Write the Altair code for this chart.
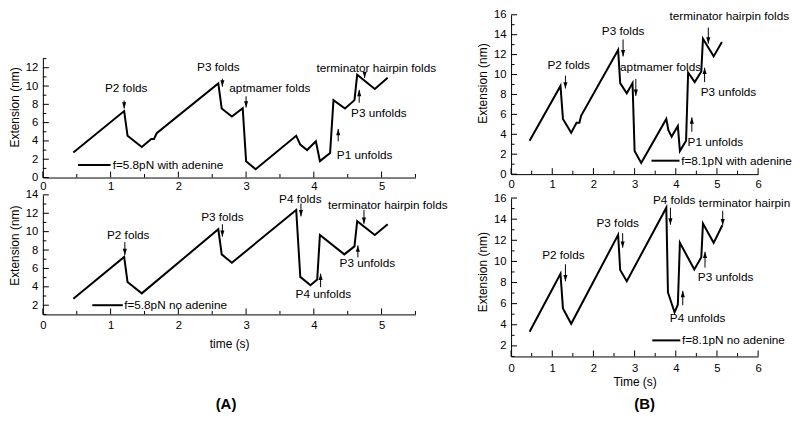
import altair as alt
import pandas as pd

FONT = "Liberation Sans"
FS = 11.8

# ---------------- Panel A (top): f=5.8pN with adenine ----------------
a1_t = [0.45, 1.20, 1.25, 1.46, 1.60, 1.64, 1.68, 2.59, 2.64, 2.79, 2.95, 3.00, 3.14,
        3.74, 3.80, 3.90, 4.03, 4.09, 4.24, 4.29, 4.46, 4.60, 4.64, 4.90, 5.09]
a1_e = [2.74, 7.26, 4.56, 3.33, 4.20, 4.20, 4.84, 10.28, 7.54, 6.67, 7.58, 1.79, 0.91,
        4.56, 3.60, 3.00, 3.96, 1.79, 2.67, 8.46, 7.54, 8.46, 11.23, 9.68, 10.91]
a1_lab = ["P2 folds", "P3 folds", "aptmamer folds", "P3 unfolds", "P1 unfolds"]
a1_lab_x = [1.23, 2.59, 3.35, 4.96, 4.75]
a1_lab_y = [9.75, 12.03, 9.80, 7.02, 2.49]
a1_left = ["terminator hairpin folds", "f=5.8pN with adenine"]
a1_left_x = [4.04, 1.03]
a1_left_y = [11.93, 1.37]
a1_arr_x = [1.20, 2.65, 3.00, 4.75, 4.67, 4.36]
a1_arr_tail = [8.42, 10.80, 8.88, 11.50, 8.18, 3.96]
a1_arr_tip = [7.54, 9.93, 7.65, 10.88, 9.58, 5.30]
a1_leg_x = [0.52, 1.00]
a1_leg_y = 1.37

# ---------------- Panel A (bottom): f=5.8pN no adenine ----------------
a2_t = [0.45, 1.20, 1.25, 1.46, 2.59, 2.64, 2.79, 3.74, 3.80, 3.95, 4.05, 4.09, 4.45,
        4.60, 4.64, 4.90, 5.09]
a2_e = [2.70, 7.25, 4.52, 3.29, 10.26, 7.53, 6.62, 12.36, 5.08, 4.17, 4.80, 9.63, 7.53,
        8.40, 11.13, 9.63, 10.80]
a2_lab = ["P2 folds", "P3 folds", "P4 folds", "P3 unfolds", "P4 unfolds"]
a2_lab_x = [1.26, 2.65, 3.80, 4.79, 4.14]
a2_lab_y = [9.63, 11.55, 13.58, 6.55, 3.26]
a2_left = ["terminator hairpin folds", "f=5.8pN no adenine"]
a2_left_x = [4.21, 1.20]
a2_left_y = [12.88, 2.00]
a2_arr_x = [1.21, 2.65, 3.81, 4.74, 4.65, 4.10]
a2_arr_tail = [8.86, 10.80, 13.06, 12.36, 7.20, 3.96]
a2_arr_tip = [7.46, 9.45, 11.66, 10.85, 8.50, 5.43]
a2_leg_x = [0.73, 1.18]
a2_leg_y = 2.00

# ---------------- Panel B (top): f=8.1pN with adenine ----------------
b1_t = [0.45, 1.20, 1.26, 1.46, 1.59, 1.66, 1.70, 2.60, 2.65, 2.81, 2.95, 3.00, 3.16,
        3.77, 3.82, 3.90, 4.05, 4.10, 4.25, 4.30, 4.46, 4.62, 4.66, 4.92, 5.12]
b1_e = [3.35, 8.85, 5.54, 4.15, 5.15, 5.15, 5.86, 12.46, 9.14, 8.11, 9.14, 2.32, 1.13,
        5.54, 4.41, 3.77, 4.83, 2.32, 3.35, 10.20, 9.24, 10.30, 13.59, 11.82, 13.26]
b1_lab = ["P2 folds", "P3 folds", "aptmamer folds", "terminator hairpin folds",
          "P3 unfolds", "P1 unfolds"]
b1_lab_x = [1.40, 2.72, 3.63, 5.30, 5.28, 4.96]
b1_lab_y = [11.00, 14.33, 10.75, 15.84, 8.27, 3.19]
b1_left = ["f=8.1pN with adenine"]
b1_left_x = [4.13]
b1_left_y = [1.35]
b1_arr_x = [1.32, 2.72, 3.03, 4.79, 4.70, 4.39]
b1_arr_tail = [9.88, 13.52, 9.56, 14.71, 9.24, 4.25]
b1_arr_tip = [8.60, 11.82, 7.86, 13.10, 10.69, 5.70]
b1_leg_x = [3.41, 4.09]
b1_leg_y = 1.35

# ---------------- Panel B (bottom): f=8.1pN no adenine ----------------
b2_t = [0.45, 1.20, 1.26, 1.46, 2.60, 2.65, 2.81, 3.77, 3.81, 3.97, 4.05, 4.10, 4.45,
        4.62, 4.66, 4.92, 5.13]
b2_e = [3.33, 8.82, 5.55, 4.09, 12.52, 9.18, 8.12, 15.09, 7.06, 5.18, 5.90, 11.76, 9.24,
        10.39, 13.58, 11.76, 13.42]
b2_lab = ["P2 folds", "P3 folds", "P4 folds", "P3 unfolds", "P4 unfolds"]
b2_lab_x = [1.27, 2.59, 3.96, 5.21, 4.53]
b2_lab_y = [10.64, 13.67, 15.85, 8.52, 4.64]
b2_left = ["terminator hairpin", "f=8.1pN no adenine"]
b2_left_x = [4.56, 4.15]
b2_left_y = [15.55, 2.52]
b2_arr_x = [1.32, 2.71, 3.87, 5.14, 4.71, 4.17]
b2_arr_tail = [9.73, 12.67, 15.09, 14.79, 9.42, 5.85]
b2_arr_tip = [8.12, 11.30, 13.48, 13.42, 10.91, 7.21]
b2_leg_x = [3.43, 4.11]
b2_leg_y = 2.52

# axis ticks
xA_major = [0, 1, 2, 3, 4, 5]
xA_minor = [0.5, 1.5, 2.5, 3.5, 4.5, 5.5]
xB_major = [0, 1, 2, 3, 4, 5, 6]
xB_minor = [0.5, 1.5, 2.5, 3.5, 4.5, 5.5]
yA1_major = [0, 2, 4, 6, 8, 10, 12]
yA1_minor = [1, 3, 5, 7, 9, 11, 13]
yA2_major = [2, 4, 6, 8, 10, 12, 14]
yA2_minor = [1, 3, 5, 7, 9, 11, 13]
yB1_major = [0, 2, 4, 6, 8, 10, 12, 14, 16]
yB1_minor = [1, 3, 5, 7, 9, 11, 13, 15]
yB2_major = [2, 4, 6, 8, 10, 12, 14, 16]
yB2_minor = [1, 3, 5, 7, 9, 11, 13, 15]

DOWN = "M0,0L-0.65,-2L0.65,-2Z"
UP = "M0,0L-0.65,2L0.65,2Z"


def panel(t, e, lab, lab_x, lab_y, left, left_x, left_y, arr_x, arr_tail, arr_tip,
          leg_x, leg_y, xdom, xmaj, xmin, ydom, ymaj, ymin, width, view_h, y_top, y_bot,
          title_y, xtitle=None, xlabpad=4, xtitlepad=8, title=None):
    xs = alt.Scale(domain=xdom, nice=False, zero=False)
    ys = alt.Scale(domain=ydom, range=[y_bot, y_top], nice=False, zero=False)
    xa = alt.Axis(values=xmaj, title=xtitle, labelPadding=xlabpad, titlePadding=xtitlepad)
    ya = alt.Axis(values=ymaj, title="Extension (nm)", labelPadding=5, titlePadding=4,
                  titleY=title_y)

    def X(f):
        return alt.X(f, scale=xs, axis=xa)

    def Y(f):
        return alt.Y(f, scale=ys, axis=ya)

    line_df = pd.DataFrame({"t": t, "e": e, "i": list(range(len(t)))})
    line = alt.Chart(line_df).mark_line(color="black", strokeWidth=2).encode(
        x=X("t:Q"), y=Y("e:Q"), order="i:O")

    layers = [line]

    for vals, L in ((xmaj, 6), (xmin, 3.5)):
        df = pd.DataFrame({"t": vals})
        layers.append(alt.Chart(df).mark_rule(color="black", strokeWidth=1).encode(
            x=X("t:Q"), y=alt.value(y_bot), y2=alt.value(y_bot - L)))
    for vals, L in ((ymaj, 6), (ymin, 3.5)):
        df = pd.DataFrame({"e": vals})
        layers.append(alt.Chart(df).mark_rule(color="black", strokeWidth=1).encode(
            y=Y("e:Q"), x=alt.value(0), x2=alt.value(L)))

    lab_df = pd.DataFrame({"t": lab_x, "e": lab_y, "s": lab})
    layers.append(alt.Chart(lab_df).mark_text(
        align="center", baseline="middle", font=FONT, fontSize=FS, color="black").encode(
        x=X("t:Q"), y=Y("e:Q"), text="s:N"))

    left_df = pd.DataFrame({"t": left_x, "e": left_y, "s": left})
    layers.append(alt.Chart(left_df).mark_text(
        align="left", baseline="middle", font=FONT, fontSize=FS, color="black").encode(
        x=X("t:Q"), y=Y("e:Q"), text="s:N"))

    arr_df = pd.DataFrame({"t": arr_x, "e": arr_tail, "e2": arr_tip})
    arr_df["d"] = ["down" if b < a else "up" for a, b in zip(arr_tail, arr_tip)]
    layers.append(alt.Chart(arr_df).mark_rule(color="black", strokeWidth=1).encode(
        x=X("t:Q"), y=Y("e:Q"), y2="e2:Q"))
    head_df = pd.DataFrame({"t": arr_x, "e": arr_tip, "d": arr_df["d"]})
    layers.append(alt.Chart(head_df).mark_point(
        filled=True, color="black", opacity=1, size=40, strokeWidth=0).encode(
        x=X("t:Q"), y=Y("e:Q"),
        shape=alt.Shape("d:N", scale=alt.Scale(domain=["down", "up"], range=[DOWN, UP]),
                        legend=None)))

    leg_df = pd.DataFrame({"t": [leg_x[0]], "t2": [leg_x[1]], "e": [leg_y]})
    layers.append(alt.Chart(leg_df).mark_rule(color="black", strokeWidth=2).encode(
        x=X("t:Q"), x2="t2:Q", y=Y("e:Q")))

    ch = alt.layer(*layers).properties(width=width, height=view_h)
    if title is not None:
        ch = ch.properties(title=title)
    return ch


WA, WB = 374, 248

pA1 = panel(a1_t, a1_e, a1_lab, a1_lab_x, a1_lab_y, a1_left, a1_left_x, a1_left_y,
            a1_arr_x, a1_arr_tail, a1_arr_tip, a1_leg_x, a1_leg_y,
            [0, 5.5], xA_major, xA_minor, [0, 13], yA1_major, yA1_minor,
            WA, 163.4, 44, 163.4, 92.5, xlabpad=3)

pB1 = panel(b1_t, b1_e, b1_lab, b1_lab_x, b1_lab_y, b1_left, b1_left_x, b1_left_y,
            b1_arr_x, b1_arr_tail, b1_arr_tip, b1_leg_x, b1_leg_y,
            [0, 6], xB_major, xB_minor, [0, 16], yB1_major, yB1_minor,
            WB, 160, 0, 160, 68.5, xlabpad=4)

pA2 = panel(a2_t, a2_e, a2_lab, a2_lab_x, a2_lab_y, a2_left, a2_left_x, a2_left_y,
            a2_arr_x, a2_arr_tail, a2_arr_tip, a2_leg_x, a2_leg_y,
            [0, 5.5], xA_major, xA_minor, [1, 14], yA2_major, yA2_minor,
            WA, 120, 0, 120, 50.5, xtitle="time (s)", xlabpad=5, xtitlepad=8,
            title=alt.TitleParams("(A)", orient="bottom", anchor="middle", frame="bounds",
                                  font=FONT, fontSize=15, fontWeight="bold",
                                  color="black", offset=48, dx=-2))

pB2 = panel(b2_t, b2_e, b2_lab, b2_lab_x, b2_lab_y, b2_left, b2_left_x, b2_left_y,
            b2_arr_x, b2_arr_tail, b2_arr_tip, b2_leg_x, b2_leg_y,
            [0, 6], xB_major, xB_minor, [1, 16], yB2_major, yB2_minor,
            WB, 162.2, 3.2, 162.2, 77.1, xtitle="Time (s)", xlabpad=6, xtitlepad=3,
            title=alt.TitleParams("(B)", orient="bottom", anchor="middle", frame="group",
                                  font=FONT, fontSize=15, fontWeight="bold",
                                  color="black", offset=9, dx=10))

chart = alt.concat(
    pA1, pB1, pA2, pB2, columns=2, bounds="flush", align="each",
    spacing={"row": 16.8, "column": 96}, padding=0,
).configure_view(stroke=None).configure_axis(
    domainColor="black", domainWidth=1, labelColor="black", titleColor="black",
    labelFont=FONT, titleFont=FONT, labelFontSize=11.3, titleFontSize=12,
    titleFontWeight="normal", grid=False, ticks=False, tickSize=0,
    labelFlush=False, labelOverlap=False,
)

chart.save("out.html", embed_options={"renderer": "svg", "actions": False})
